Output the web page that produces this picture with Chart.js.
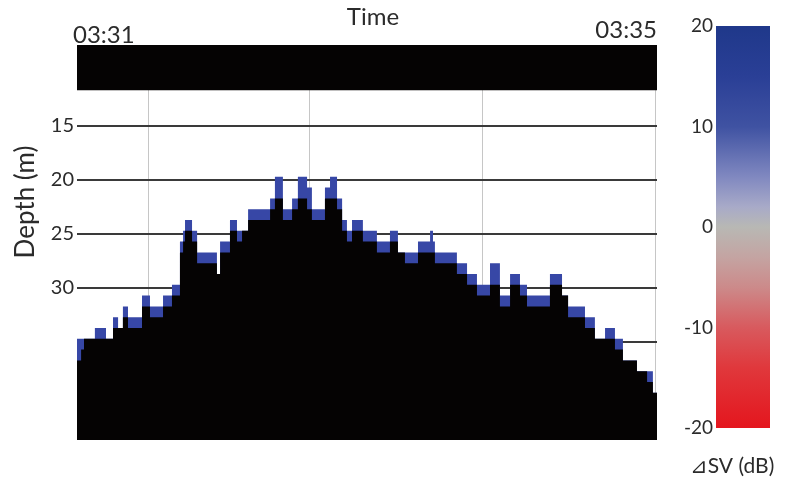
<!DOCTYPE html>
<html>
<head>
<meta charset="utf-8">
<script src="https://cdn.jsdelivr.net/npm/chart.js@4.4.1/dist/chart.umd.min.js"></script>
<style>
  html, body { margin: 0; padding: 0; background: #fff; }
  #wrap { position: relative; width: 790px; height: 487px; }
  #echoBox { position: absolute; left: 0; top: 0; width: 680px; height: 487px; }
  #barBox { position: absolute; left: 680px; top: 0; width: 110px; height: 487px; }
</style>
</head>
<body>
<div id="wrap">
  <div id="echoBox"><canvas id="echoChart"></canvas></div>
  <div id="barBox"><canvas id="svChart"></canvas></div>
</div>
<script>
// seconds after 03:31, start of each step of the bottom echo
const times = [0, 1.7, 2.9, 7.4, 12.0, 14.9, 17.0, 19.0, 21.1, 23.2,
  26.9, 30.2, 35.6, 39.3, 42.6, 43.9, 44.7, 47.6, 49.7, 57.9,
  59.2, 63.3, 66.2, 68.3, 70.8, 79.9, 81.9, 85.2, 89.0, 91.4,
  95.2, 97.2, 102.6, 104.7, 107.6, 109.7, 111.7, 113.8, 118.3, 124.1,
  129.5, 132.8, 135.7, 141.1, 146.1, 147.3, 148.1, 157.2, 161.4, 165.5,
  170.9, 175.0, 179.2, 183.3, 186.2, 195.7, 200.7, 203.2, 210.2, 214.3,
  218.5, 222.6, 225.9, 231.7, 235.9, 238.3, 240];
// depth of the black bottom (m)
const seabed = [36.7, 35.7, 34.7, 34.7, 34.7, 33.7, 33.7, 32.7, 33.7, 33.7,
  31.7, 32.7, 31.7, 30.7, 26.7, 25.7, 24.7, 25.7, 27.7, 28.7,
  26.7, 24.7, 25.7, 24.7, 23.7, 22.7, 21.7, 23.7, 22.7, 21.7,
  22.7, 23.7, 21.7, 21.7, 22.7, 24.7, 25.7, 24.7, 25.7, 26.7,
  25.7, 26.7, 27.7, 26.7, 26.7, 26.7, 27.7, 28.7, 29.7, 30.7,
  29.7, 31.7, 29.7, 30.7, 31.7, 29.7, 30.7, 32.7, 33.7, 34.7,
  34.7, 35.7, 36.7, 37.7, 38.7, 39.7, 39.7];
// top of the blue (positive dSV) fringe (m)
const fringe = [34.7, 34.7, 34.7, 33.7, 34.7, 32.7, 33.7, 31.7, 32.7, 32.7,
  30.7, 31.7, 30.7, 29.7, 25.7, 24.7, 23.7, 24.7, 26.7, 28.7,
  25.7, 23.7, 24.7, 24.7, 22.7, 21.7, 19.7, 22.7, 21.7, 19.7,
  20.7, 22.7, 20.7, 19.7, 21.7, 23.7, 24.7, 23.7, 24.7, 25.7,
  24.7, 26.7, 26.7, 25.7, 24.7, 25.7, 26.7, 27.7, 28.7, 29.7,
  27.7, 30.7, 28.7, 29.7, 30.7, 28.7, 30.7, 31.7, 32.7, 34.7,
  33.7, 34.7, 36.7, 37.7, 37.7, 39.7, 39.7];
const surfaceDepth = 11.7;
const depthMin = 7.5, depthMax = 44.07;
const depthTicks = [15, 20, 25, 30, 35];
const gridTimes = [29.4, 96.4, 167.6, 239.2];
const timeStart = '03:31', timeEnd = '03:35';

// colour scale
const svStops = [20, 15, 10, 5, 2, 0, -3, -6, -10, -14, -20];
const svColors = ['#1f388a', '#2a3f96', '#3f52a2', '#8088c0', '#a8aac8', '#b8b8b4',
  '#c4a4a2', '#cc8a8a', '#d85a5e', '#e0383c', '#e4161e'];
const svTicks = [20, 10, 0, -10, -20];

const FONT = 'Lato, "Open Sans", sans-serif';
const TXT = '#2b2b2b';

const pts = arr => times.map((t, i) => ({ x: t, y: arr[i] }));

const echoText = {
  id: 'echoText',
  afterDraw(chart) {
    const ctx = chart.ctx;
    const xs = chart.scales.x;
    ctx.save();
    ctx.fillStyle = TXT;
    ctx.font = '24px ' + FONT;
    ctx.textBaseline = 'alphabetic';
    ctx.textAlign = 'center';
    ctx.fillText('Time', 373, 25);
    ctx.textAlign = 'left';
    ctx.fillText(timeStart, xs.getPixelForValue(0) - 4, 43);
    ctx.textAlign = 'right';
    ctx.fillText(timeEnd, xs.getPixelForValue(240), 38);
    ctx.font = '26px ' + FONT;
    ctx.translate(26, 202);
    ctx.rotate(-Math.PI / 2);
    ctx.textAlign = 'center';
    ctx.textBaseline = 'middle';
    ctx.fillText('Depth (m)', 0, 0);
    ctx.restore();
  }
};

new Chart(document.getElementById('echoChart'), {
  type: 'line',
  data: {
    datasets: [
      {
        label: 'surface',
        data: [{ x: 0, y: surfaceDepth }, { x: 240, y: surfaceDepth }],
        borderWidth: 0, pointRadius: 0,
        backgroundColor: '#050303',
        fill: { value: depthMin },
        order: 0
      },
      {
        label: 'bottom',
        data: pts(seabed),
        stepped: true,
        borderWidth: 0, pointRadius: 0,
        backgroundColor: '#050303',
        fill: { value: depthMax },
        order: 1
      },
      {
        label: 'fringe',
        data: pts(fringe),
        stepped: true,
        borderWidth: 0, pointRadius: 0,
        backgroundColor: '#3747a6',
        fill: { value: depthMax },
        order: 2
      }
    ]
  },
  options: {
    responsive: true,
    maintainAspectRatio: false,
    animation: false,
    layout: { padding: { top: 45, bottom: 47, left: 0, right: 23 } },
    plugins: { legend: { display: false }, tooltip: { enabled: false } },
    scales: {
      x: {
        type: 'linear', min: 0, max: 240,
        afterBuildTicks: s => { s.ticks = gridTimes.map(v => ({ value: v })); },
        afterFit: s => { s.height = 0; },
        ticks: { display: false },
        grid: { color: '#c6c6c6', lineWidth: 1, drawTicks: false },
        border: { display: false }
      },
      y: {
        type: 'linear', reverse: true, min: depthMin, max: depthMax,
        afterBuildTicks: s => { s.ticks = depthTicks.map(v => ({ value: v })); },
        afterFit: s => { s.width = 77; },
        ticks: {
          padding: 3, color: TXT,
          font: { family: FONT, size: 20 },
          callback: v => (v === 35 ? '' : v)
        },
        grid: { color: '#3a3a3a', lineWidth: 2, drawTicks: false },
        border: { display: false }
      }
    }
  },
  plugins: [echoText]
});

const svText = {
  id: 'svText',
  afterDraw(chart) {
    const ctx = chart.ctx;
    ctx.save();
    ctx.fillStyle = TXT;
    ctx.font = '21px ' + FONT;
    ctx.textAlign = 'center';
    ctx.fillText('⊿SV (dB)', 52, 473);
    ctx.restore();
  }
};

new Chart(document.getElementById('svChart'), {
  type: 'bar',
  data: {
    labels: [''],
    datasets: [{
      data: [[-20, 20]],
      barPercentage: 1, categoryPercentage: 1,
      borderWidth: 0,
      backgroundColor: c => {
        const ch = c.chart, area = ch.chartArea, ys = ch.scales.y;
        if (!area || !ys) return '#888';
        const g = ch.ctx.createLinearGradient(0, area.top, 0, area.bottom);
        const span = area.bottom - area.top;
        svStops.forEach((v, i) => {
          const p = (ys.getPixelForValue(v) - area.top) / span;
          g.addColorStop(Math.min(1, Math.max(0, p)), svColors[i]);
        });
        return g;
      }
    }]
  },
  options: {
    responsive: true,
    maintainAspectRatio: false,
    animation: false,
    layout: { padding: { top: 26, bottom: 59, left: 0, right: 20 } },
    plugins: { legend: { display: false }, tooltip: { enabled: false } },
    scales: {
      x: { display: false },
      y: {
        min: -20, max: 20,
        afterBuildTicks: s => { s.ticks = svTicks.map(v => ({ value: v })); },
        afterFit: s => { s.width = 36; },
        ticks: { padding: 3, color: TXT, font: { family: FONT, size: 19 } },
        grid: { display: false, drawTicks: false },
        border: { display: false }
      }
    }
  },
  plugins: [svText]
});
</script>
</body>
</html>
